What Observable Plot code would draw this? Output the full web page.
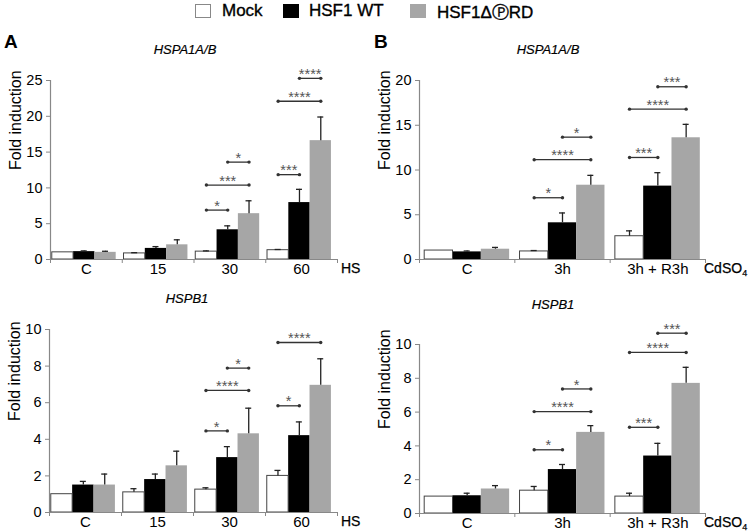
<!DOCTYPE html>
<html><head><meta charset="utf-8">
<script src="https://cdn.jsdelivr.net/npm/d3@7"></script>
<script src="https://cdn.jsdelivr.net/npm/@observablehq/plot@0.6"></script>
<style>
body{margin:0;background:#fff;font-family:"Liberation Sans",Arial,sans-serif;color:#000}
#root{position:relative;width:750px;height:532px;overflow:hidden;background:#fff}
.abs{position:absolute;white-space:nowrap}
.box{position:absolute;width:16px;height:14px;box-sizing:border-box}
.ttl{position:absolute;font-style:italic;font-size:13px;transform:translateX(-50%);white-space:nowrap;-webkit-text-stroke:0.2px #000}
.pl{position:absolute;font-weight:bold;font-size:19px}
.unit{position:absolute;font-size:14px;white-space:nowrap;-webkit-text-stroke:0.25px #000}
.leg{-webkit-text-stroke:0.35px #000}
svg text{-webkit-text-stroke:0.2px currentColor}
</style></head><body><div id="root"></div>
<script>
// ---- data ----
const series = ["Mock", "HSF1 WT", "HSF1\u0394\u24C5RD"];
const seriesColors = ["#ffffff", "#000000", "#a6a6a6"];
const hsCategories = ["C", "15", "30", "60"];
const cdCategories = ["C", "3h", "3h + R3h"];

// A top: HSPA1A/B, heat shock
const hsHspaMock = [1.0, 0.85, 1.1, 1.3];
const hsHspaWT   = [1.1, 1.55, 4.15, 7.95];
const hsHspaDRD  = [1.0, 2.05, 6.4, 16.6];
const hsHspaMockTop = [1.0, 0.95, 1.2, 1.4];
const hsHspaWTTop   = [1.2, 1.8, 4.7, 9.8];
const hsHspaDRDTop  = [1.15, 2.75, 8.2, 19.9];
const hsHspaSig = [["30",0,1,6.9,"*"],["30",0,2,10.4,"***"],["30",1,2,13.6,"*"],
                   ["60",0,1,11.85,"***"],["60",0,2,22.1,"****"],["60",1,2,25.3,"****"]];
const hsHspaTicks = [0, 5, 10, 15, 20, 25];

// B top: HSPA1A/B, CdSO4
const cdHspaMock = [1.0, 0.9, 2.6];
const cdHspaWT   = [0.85, 4.1, 8.2];
const cdHspaDRD  = [1.15, 8.3, 13.6];
const cdHspaMockTop = [1.0, 1.0, 3.2];
const cdHspaWTTop   = [0.95, 5.2, 9.7];
const cdHspaDRDTop  = [1.35, 9.4, 15.1];
const cdHspaSig = [["3h",0,1,6.9,"*"],["3h",0,2,11.15,"****"],["3h",1,2,13.67,"*"],
                   ["3h + R3h",0,1,11.4,"***"],["3h + R3h",0,2,16.8,"****"],["3h + R3h",1,2,19.3,"***"]];
const cdHspaTicks = [0, 5, 10, 15, 20];

// A bottom: HSPB1, heat shock
const hsHspbMock = [1.0, 1.1, 1.25, 2.0];
const hsHspbWT   = [1.5, 1.8, 3.0, 4.2];
const hsHspbDRD  = [1.5, 2.55, 4.3, 6.95];
const hsHspbMockTop = [1.0, 1.3, 1.35, 2.3];
const hsHspbWTTop   = [1.7, 2.1, 3.6, 4.95];
const hsHspbDRDTop  = [2.1, 3.35, 5.7, 8.4];
const hsHspbSig = [["30",0,1,4.46,"*"],["30",0,2,6.67,"****"],["30",1,2,7.89,"*"],
                   ["60",0,1,5.83,"*"],["60",0,2,9.29,"****"]];
const hsHspbTicks = [0, 2, 4, 6, 8, 10];

// B bottom: HSPB1, CdSO4
const cdHspbMock = [1.0, 1.35, 1.0];
const cdHspbWT   = [1.05, 2.6, 3.4];
const cdHspbDRD  = [1.45, 4.8, 7.7];
const cdHspbMockTop = [1.0, 1.6, 1.2];
const cdHspbWTTop   = [1.2, 2.9, 4.15];
const cdHspbDRDTop  = [1.65, 5.2, 8.65];
const cdHspbSig = [["3h",0,1,3.77,"*"],["3h",0,2,6.03,"****"],["3h",1,2,7.37,"*"],
                   ["3h + R3h",0,1,5.1,"***"],["3h + R3h",0,2,9.53,"****"],["3h + R3h",1,2,10.67,"***"]];
const cdHspbTicks = [0, 2, 4, 6, 8, 10];

// ---- drawing ----
const root = document.getElementById("root");
const BW = 0.297;

function add(html, cls, style) {
  const d = document.createElement("div");
  d.className = cls; d.innerHTML = html;
  Object.assign(d.style, style);
  root.appendChild(d);
  return d;
}

function panel(cfg) {
  const n = cfg.cats.length;
  const rows = [];
  cfg.cats.forEach((c, ci) => cfg.means.forEach((m, si) => {
    rows.push({si, s: series[si], x: ci + (si - 1) * BW + cfg.shift, mean: m[ci], top: cfg.tops[si][ci]});
  }));
  const sig = cfg.sig.map(([cat, a, b, y, label]) => {
    const ci = cfg.cats.indexOf(cat);
    return {x1: ci + (a - 1) * BW + cfg.shift, x2: ci + (b - 1) * BW + cfg.shift, y, label};
  });
  const ends = sig.flatMap(d => [{x: d.x1, y: d.y}, {x: d.x2, y: d.y}]);
  const bounds = d3.range(n + 1).map(i => i - 0.5);
  const ymax = cfg.ticks[cfg.ticks.length - 1];
  const svg = Plot.plot({
    width: cfg.width, height: cfg.height,
    marginLeft: cfg.mL, marginRight: cfg.mR, marginTop: cfg.mT, marginBottom: cfg.mB,
    x: {domain: [-0.5, n - 0.5], axis: null},
    y: {domain: [0, ymax], axis: null},
    color: {domain: series, range: seriesColors},
    style: {fontFamily: "'Liberation Sans', Arial, sans-serif", fontSize: "14px", color: "#000", background: "transparent", overflow: "visible"},
    marks: [
      Plot.rectY(rows, {x1: d => d.x - BW / 2, x2: d => d.x + BW / 2, y1: 0, y2: "mean", fill: "s"}),
      Plot.rectY(rows.filter(d => d.si === 0), {x1: d => d.x - BW / 2, x2: d => d.x + BW / 2, y1: 0, y2: "mean", fill: "none", stroke: "#444", strokeWidth: 1}),
      Plot.ruleX(rows.filter(d => d.top > d.mean), {x: "x", y1: "mean", y2: "top", stroke: "#222", strokeWidth: 1.3}),
      Plot.ruleY(rows.filter(d => d.top > d.mean), {x1: "x", x2: "x", y: "top", insetLeft: -3, insetRight: -3, stroke: "#222", strokeWidth: 1.3}),
      Plot.ruleY([0], {stroke: "#888", strokeWidth: 1.2}),
      Plot.ruleX([-0.5], {y1: 0, y2: ymax, stroke: "#888", strokeWidth: 1.2}),
      Plot.axisY({ticks: cfg.ticks, tickSize: 4, tickPadding: 4, stroke: "#888", fontSize: 14.5}),
      Plot.axisX({ticks: bounds, tickFormat: () => "", tickSize: 4, stroke: "#888"}),
      Plot.axisX({ticks: d3.range(n), tickFormat: i => cfg.cats[i], tickSize: 0, tickPadding: 4, fontSize: 15}),
      Plot.ruleY(sig, {x1: "x1", x2: "x2", y: "y", stroke: "#333", strokeWidth: 1.3}),
      Plot.dot(ends, {x: "x", y: "y", r: 1.7, fill: "#333"}),
      Plot.text(sig, {x: d => (d.x1 + d.x2) / 2, y: "y", text: "label", dy: -4, fontSize: 14.5, fill: "#555"}),
      Plot.text(["Fold induction"], {frameAnchor: "left", rotate: -90, dx: -35, fontSize: 16})
    ]
  });
  Object.assign(svg.style, {position: "absolute", left: cfg.left + "px", top: cfg.top + "px"});
  root.appendChild(svg);
}

panel({cats: hsCategories, means: [hsHspaMock, hsHspaWT, hsHspaDRD], tops: [hsHspaMockTop, hsHspaWTTop, hsHspaDRDTop],
  sig: hsHspaSig, ticks: hsHspaTicks, shift: -0.03,
  left: 0, top: 55, width: 375, height: 234, mL: 50, mR: 38, mT: 25, mB: 30});
panel({cats: cdCategories, means: [cdHspaMock, cdHspaWT, cdHspaDRD], tops: [cdHspaMockTop, cdHspaWTTop, cdHspaDRDTop],
  sig: cdHspaSig, ticks: cdHspaTicks, shift: 0,
  left: 370, top: 55, width: 375, height: 234, mL: 49, mR: 40, mT: 25, mB: 30});
panel({cats: hsCategories, means: [hsHspbMock, hsHspbWT, hsHspbDRD], tops: [hsHspbMockTop, hsHspbWTTop, hsHspbDRDTop],
  sig: hsHspbSig, ticks: hsHspbTicks, shift: -0.03,
  left: 0, top: 310, width: 375, height: 222, mL: 49, mR: 38, mT: 19, mB: 20});
panel({cats: cdCategories, means: [cdHspbMock, cdHspbWT, cdHspbDRD], tops: [cdHspbMockTop, cdHspbWTTop, cdHspbDRDTop],
  sig: cdHspbSig, ticks: cdHspbTicks, shift: 0,
  left: 370, top: 310, width: 375, height: 222, mL: 49, mR: 40, mT: 34, mB: 19});

// legend
const legendX = [[195, 222], [283, 309], [410, 437]];
series.forEach((s, i) => {
  add("", "box", {left: legendX[i][0] + "px", top: "4px", background: seriesColors[i], border: i === 0 ? "1px solid #888" : "none"});
  add(s, "abs leg", {left: legendX[i][1] + "px", top: "1px", fontSize: "17px"});
});
// panel letters and titles
add("A", "pl", {left: "4px", top: "31px"});
add("B", "pl", {left: "374px", top: "31px"});
add("HSPA1A/B", "ttl", {left: "185px", top: "42px"});
add("HSPA1A/B", "ttl", {left: "548px", top: "42px"});
add("HSPB1", "ttl", {left: "187px", top: "291px"});
add("HSPB1", "ttl", {left: "553px", top: "297px"});
add("HS", "unit", {left: "341px", top: "260px"});
add("HS", "unit", {left: "341px", top: "513px"});
add("CdSO<sub style='font-size:9px;vertical-align:-3px'>4</sub>", "unit", {left: "704px", top: "260px"});
add("CdSO<sub style='font-size:9px;vertical-align:-3px'>4</sub>", "unit", {left: "704px", top: "514px"});
</script></body></html>
